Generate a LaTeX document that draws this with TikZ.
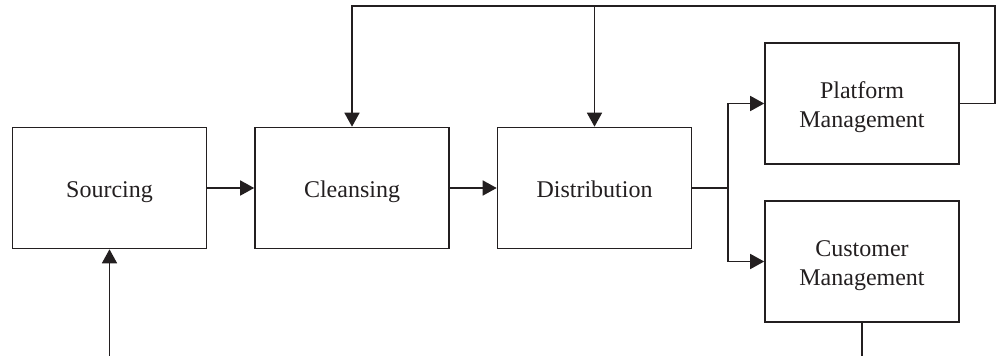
\documentclass[tikz,border=0pt]{standalone}
\usepackage{fontspec}
\setmainfont{Liberation Serif}
\usetikzlibrary{arrows.meta}
\definecolor{ink}{HTML}{231F20}
\begin{document}
\begin{tikzpicture}[x=1pt,y=-1pt,
  box/.style={draw=ink,line width=1.6pt,minimum width=194pt,minimum height=121pt,inner sep=0pt,align=center,font=\fontsize{24}{29}\selectfont,text=ink},
  one/.style={box,text height=18pt,text depth=0pt},
  two/.style={box,text height=49pt,text depth=2pt},
  conn/.style={draw=ink,line width=1.6pt},
  arr/.style={conn,-{Triangle[length=14pt,width=15pt]}}]
\useasboundingbox (0,0) rectangle (996,356);
\node[one] (src) at (109.5,188) {Sourcing};
\node[one] (cln) at (352,188) {Cleansing};
\node[one] (dst) at (594.5,188) {Distribution};
\node[two] (plat) at (862,103.5) {Platform\\Management};
\node[two] (cust) at (862,261.5) {Customer\\Management};
\coordinate (top) at (995,6);
\coordinate (split) at (728,188);
\coordinate (srcin) at (109.5,356);
\coordinate (custout) at (862,356);
\draw[arr] (src.east) -- (cln.west);
\draw[arr] (cln.east) -- (dst.west);
\draw[arr] (plat.east) -| (top) -| (cln.north);
\draw[arr] (dst.north |- top) -- (dst.north);
\draw[conn] (dst.east) -- (split);
\draw[arr] (split) |- (plat.west);
\draw[arr] (split) |- (cust.west);
\draw[arr] (srcin) -- (src.south);
\draw[conn] (cust.south) -- (custout);
\end{tikzpicture}
\end{document}
